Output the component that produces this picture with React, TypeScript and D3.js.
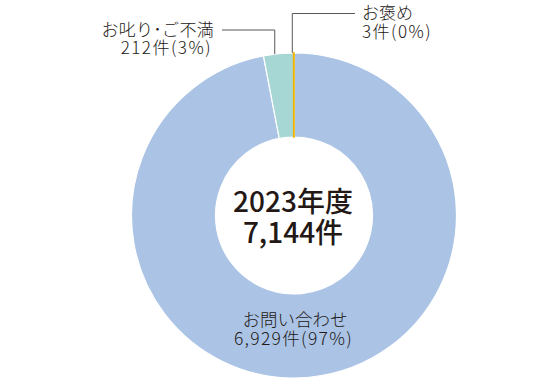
import React from "react";
import * as d3 from "d3";

const categories = ["お問い合わせ", "お叱り･ご不満", "お褒め"];
const counts = [6929, 212, 3];
const countLabels = ["6,929件(97%)", "212件(3%)", "3件(0%)"];
const colors = ["#abc4e5", "#a6d7d4", "#f0b400"];
const centerLines = ["2023年度", "7,144件"];

const W = 560;
const H = 383;
const cx = 294;
const cy = 215.5;
const rOuter = 162.5;
const rInner = 78.5;
const font = "'Noto Sans CJK JP', 'Noto Sans', sans-serif";
const ink = "#231815";

export default function App() {
  const pie = d3.pie<number>().value((d) => d).sort(null).startAngle(0).endAngle(2 * Math.PI);
  const arcs = pie(counts);
  const arcGen = d3.arc<d3.PieArcDatum<number>>().innerRadius(rInner).outerRadius(rOuter);

  const mid = (i: number) => (arcs[i].startAngle + arcs[i].endAngle) / 2;
  const edge = (i: number, r: number) => {
    const a = mid(i);
    return [cx + Math.sin(a) * r, cy - Math.cos(a) * r];
  };
  const p1 = edge(1, rOuter);
  const p2 = edge(2, rOuter);
  const x1 = p1[0] - 3.7;
  const y1 = cy - Math.sqrt(rOuter * rOuter - (x1 - cx) * (x1 - cx));
  const x2 = p2[0] - 1.5;

  return (
    <svg width={W} height={H} style={{ position: "absolute", left: 0, top: 0, background: "#fff" }}>
      <g transform={`translate(${cx},${cy})`}>
        {arcs.map((a, i) => (
          <path
            key={i}
            d={arcGen(a) || ""}
            fill={colors[i]}
            stroke={i === 2 ? colors[i] : "#fff"}
            strokeWidth={i === 2 ? 1.6 : 1.2}
          />
        ))}
      </g>
      <polyline
        points={`222,30 ${x1},30 ${x1},${y1}`}
        fill="none"
        stroke="#595757"
        strokeWidth={1}
      />
      <polyline
        points={`${x2},${p2[1]} ${x2},13.5 355,13.5`}
        fill="none"
        stroke="#595757"
        strokeWidth={1}
      />
      <g fontFamily={font} fill={ink} fontWeight={300}>
        <text x={214} y={35.5} fontSize={17} letterSpacing={0.3} textAnchor="end">{categories[1]}</text>
        <text x={212} y={54} fontSize={17} letterSpacing={1.5} textAnchor="end">{countLabels[1]}</text>
        <text x={362} y={18.5} fontSize={17}>{categories[2]}</text>
        <text x={362} y={37.5} fontSize={17} letterSpacing={1.5}>{countLabels[2]}</text>
        <text x={295} y={326} fontSize={17.5} textAnchor="middle">{categories[0]}</text>
        <text x={293.5} y={345} fontSize={17.5} letterSpacing={1.3} textAnchor="middle">{countLabels[0]}</text>
      </g>
      <g fontFamily={font} fill={ink}>
        <text x={cx - 1} y={212} fontSize={28} fontWeight={500} textAnchor="middle">{centerLines[0]}</text>
        <text x={cx - 1} y={243} fontSize={28} fontWeight={500} textAnchor="middle">{centerLines[1]}</text>
      </g>
    </svg>
  );
}
